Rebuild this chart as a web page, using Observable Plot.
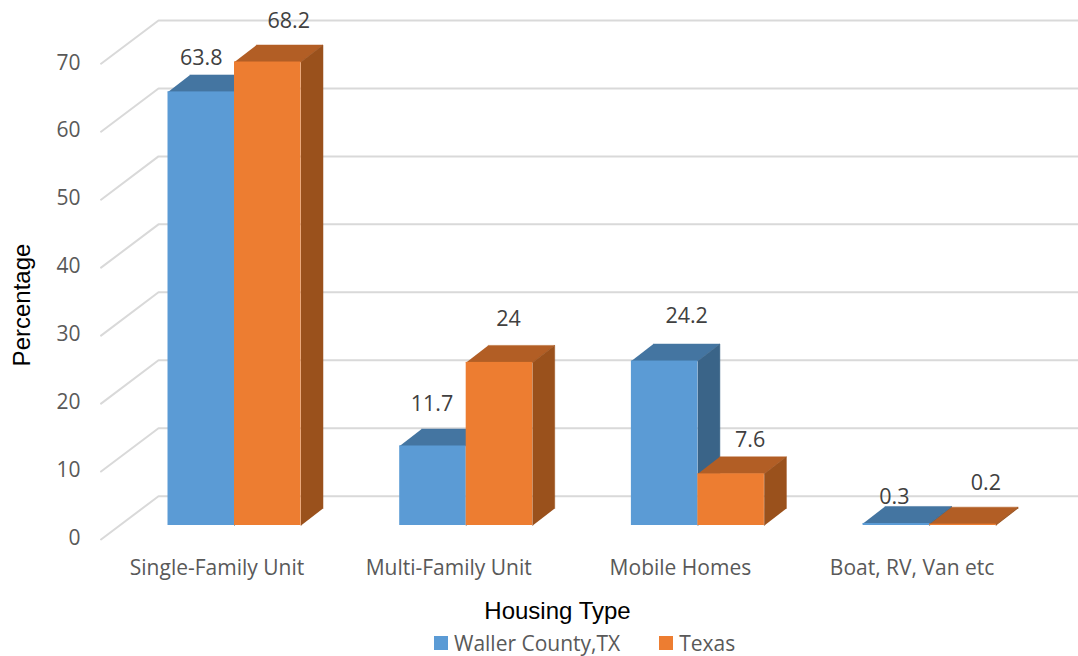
<!DOCTYPE html>
<html>
<head>
<meta charset="utf-8">
<script src="https://cdn.jsdelivr.net/npm/d3@7"></script>
<script src="https://cdn.jsdelivr.net/npm/@observablehq/plot@0.6"></script>
<style>
html,body{margin:0;padding:0;background:#fff;}
#chart svg{display:block;}
#legend{height:26px;display:flex;align-items:center;justify-content:flex-start;padding-left:434px;
  font:21px "Open Sans",sans-serif;color:#595959;}
#legend i{display:inline-block;width:14px;height:14px;margin-right:6px;}
#legend span{margin-right:39px;white-space:nowrap;}
</style>
</head>
<body>
<div id="chart"></div>
<div id="legend"></div>
<script>
// ---- data ----
const categories = ["Single-Family Unit", "Multi-Family Unit", "Mobile Homes", "Boat, RV, Van etc"];
const seriesNames = ["Waller County,TX", "Texas"];
const wallerValues = [63.8, 11.7, 24.2, 0.3];
const texasValues = [68.2, 24, 7.6, 0.2];
const valueLabels = [["63.8", "11.7", "24.2", "0.3"], ["68.2", "24", "7.6", "0.2"]];
const yTicks = [0, 10, 20, 30, 40, 50, 60, 70];

// ---- 3-D projection, expressed in scale units ----
const pxPerCat = 231.7, pxPerVal = 6.796;
const barW = 66.5 / pxPerCat;            // bar width in category units
const depthX = 22 / pxPerCat, depthV = 17 / pxPerVal;   // bar depth
const wallFrontU = -0.576, wallBackU = -0.328, wallEndU = 3.6427;
const wallFrontV = -2.06, wallBackV = 4.31;

const palette = [
  {front: "#5B9BD5", top: "#4475A1", side: "#3A6488"},
  {front: "#ED7D31", top: "#B25E25", side: "#9A511C"}
];

const rows = [wallerValues, texasValues].flatMap((vals, s) =>
  vals.map((v, c) => ({s, c, v, x0: c + (s - 1) * barW, x1: c + s * barW, label: valueLabels[s][c]})));

const grid = yTicks.flatMap(t => [
  {t, u: wallFrontU, v: t + wallFrontV},
  {t, u: wallBackU, v: t + wallBackV},
  {t, u: wallEndU, v: t + wallBackV}
]);

const topFace = r => [[r.x0, r.v], [r.x1, r.v], [r.x1 + depthX, r.v + depthV], [r.x0 + depthX, r.v + depthV]]
  .map(([u, v]) => ({id: r.s + "-" + r.c, u, v}));
const sideFace = r => [[r.x1, 0], [r.x1, r.v], [r.x1 + depthX, r.v + depthV], [r.x1 + depthX, depthV]]
  .map(([u, v]) => ({id: r.s + "-" + r.c, u, v}));

// label nudges away from the bar's front-top centre, px
const nudge = {"0-0": [0, 34], "1-0": [21, 41], "0-1": [-1, 42], "1-1": [9, 43],
               "0-2": [22, 45], "1-2": [19, 34], "0-3": [-2, 26], "1-3": [23, 41]};
const labelRows = rows.map(r => {
  const [dx, dy] = nudge[r.s + "-" + r.c];
  return {...r, lu: (r.x0 + r.x1) / 2 + dx / pxPerCat, lv: r.v + dy / pxPerVal};
});

const faces = s => {
  const rs = rows.filter(r => r.s === s);
  return [
    Plot.line(rs.flatMap(topFace), {x: "u", y: "v", z: "id", fill: palette[s].top, stroke: palette[s].top, strokeWidth: 0.5}),
    Plot.line(rs.flatMap(sideFace), {x: "u", y: "v", z: "id", fill: palette[s].side, stroke: palette[s].side, strokeWidth: 0.5}),
    Plot.rect(rs, {x1: "x0", x2: "x1", y1: 0, y2: "v", fill: palette[s].front})
  ];
};

const font = '"Open Sans", sans-serif';
const chart = Plot.plot({
  width: 1078,
  height: 630,
  marginLeft: 80,
  marginRight: 0,
  marginTop: 0,
  marginBottom: 90,
  style: {background: "#fff", fontFamily: font},
  x: {domain: [-0.6647, wallEndU]},
  y: {domain: [-2.207, 77.25]},
  marks: [
    Plot.line(grid, {x: "u", y: "v", z: "t", stroke: "#d9d9d9", strokeWidth: 2}),
    ...faces(0),
    ...faces(1),
    Plot.axisY({ticks: yTicks, tickSize: 0, tickPadding: 0, dy: 13, label: null,
      fontSize: 21, fill: "#595959"}),
    Plot.axisX({ticks: [0, 1, 2, 3], tickFormat: i => categories[i], tickSize: 0, tickPadding: 20, dx: -17.5,
      label: null, fontSize: 21, fill: "#595959"}),
    Plot.text(labelRows, {x: "lu", y: "lv", text: "label", fontSize: 21.5, fill: "#404040", textAnchor: "middle", lineAnchor: "middle"}),
    Plot.text(["Percentage"], {frameAnchor: "left", dx: -58, dy: 34.5, rotate: -90, fontSize: 24,
      fill: "#000", fontFamily: '"Liberation Sans", Arial, sans-serif', textAnchor: "middle", lineAnchor: "middle"}),
    Plot.text(["Housing Type"], {frameAnchor: "bottom", dx: -22, dy: 71, fontSize: 24,
      fill: "#000", fontFamily: '"Liberation Sans", Arial, sans-serif', textAnchor: "middle", lineAnchor: "middle"})
  ]
});
document.getElementById("chart").append(chart);

const legend = document.getElementById("legend");
seriesNames.forEach((n, s) => {
  const i = document.createElement("i");
  i.style.background = palette[s].front;
  const t = document.createElement("span");
  t.textContent = n;
  legend.append(i, t);
});
</script>
</body>
</html>
